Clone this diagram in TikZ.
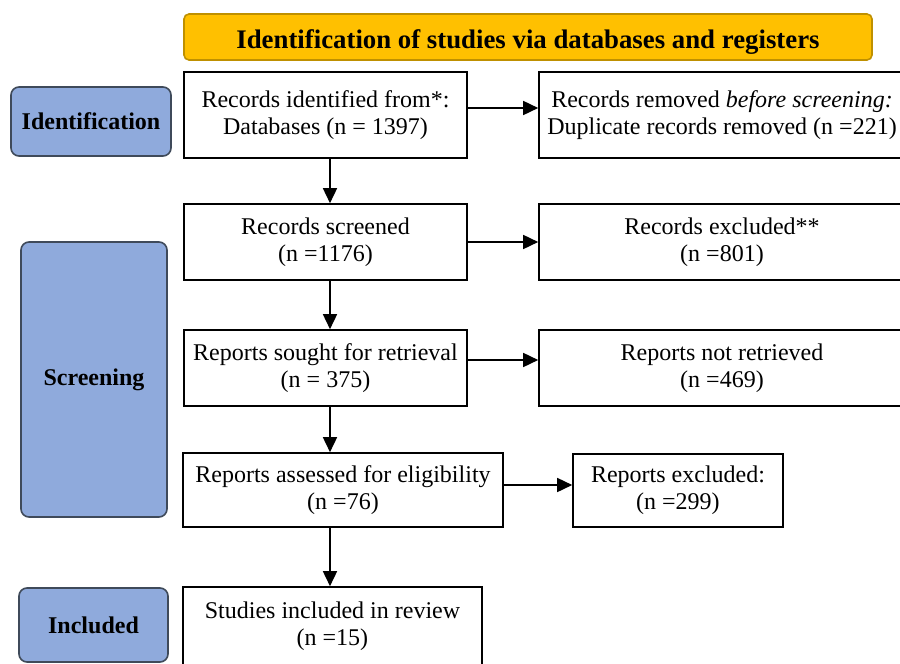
\documentclass[tikz,border=0pt]{standalone}
\usepackage{fontspec}
\setmainfont{Liberation Serif}
\usetikzlibrary{arrows.meta}
\definecolor{hdrfill}{HTML}{FFC000}
\definecolor{hdrline}{HTML}{BF9000}
\definecolor{phasefill}{HTML}{8FAADC}
\definecolor{phaseline}{HTML}{3F4A5A}
\begin{document}
\begin{tikzpicture}[x=0.5pt,y=-0.5pt,
  box/.style={draw=black, line width=0.8pt, fill=white, align=center, inner sep=0pt,
    font=\fontsize{12}{13.5}\selectfont},
  phase/.style={draw=phaseline, line width=0.8pt, fill=phasefill, rounded corners=4pt,
    inner sep=0pt, font=\fontsize{12}{14}\selectfont\bfseries},
  hdr/.style={draw=hdrline, line width=0.8pt, fill=hdrfill, rounded corners=2.5pt,
    inner sep=0pt, font=\fontsize{13.4}{15}\selectfont\bfseries},
  arr/.style={draw=black, line width=0.8pt, -{Triangle[length=7.5pt,width=7pt]}}]
\useasboundingbox (0,0) rectangle (900,664);
\fill[white] (0,0) rectangle (900,664);

\node[hdr, minimum width=344pt, minimum height=23pt] (hdr) at (528,37)
  {\raisebox{-2.5pt}[\height][\depth]{Identification of studies via databases and registers}};

\node[phase, minimum width=80pt, minimum height=34.5pt] (idl) at (91,121.5) {Identification};
\node[phase, minimum width=73pt, minimum height=137.5pt] (scl) at (94,379.5) {Screening};
\node[phase, minimum width=74.5pt, minimum height=37pt] (inl) at (93.5,625) {Included};

\node[box, minimum width=141.5pt, minimum height=43pt] (b1) at (325.5,115)
  {Records identified from*:\\Databases (n = 1397)};
\node[box, minimum width=183pt, minimum height=43pt] (b2) at (722,115)
  {Records removed \textit{before screening:}\\Duplicate records removed (n =221)};
\node[box, minimum width=141.5pt, minimum height=38pt] (b3) at (325.5,242)
  {Records screened\\(n =1176)};
\node[box, minimum width=183pt, minimum height=38pt] (b4) at (722,242)
  {Records excluded**\\(n =801)};
\node[box, minimum width=141.5pt, minimum height=38pt] (b5) at (325.5,368)
  {Reports sought for retrieval\\(n = 375)};
\node[box, minimum width=183pt, minimum height=38pt] (b6) at (722,368)
  {Reports not retrieved\\(n =469)};
\node[box, minimum width=160pt, minimum height=37pt] (b7) at (343,490)
  {Reports assessed for eligibility\\(n =76)};
\node[box, minimum width=105pt, minimum height=36.5pt] (b8) at (678,490.5)
  {Reports excluded:\\(n =299)};
\node[box, minimum width=149.5pt, minimum height=39.5pt] (b9) at (332.5,626.5)
  {Studies included in review\\(n =15)};

% horizontal arrows
\draw[arr] ([yshift=3.5pt]b1.east) -- ([yshift=3.5pt]b1.east -| b2.west);
\draw[arr] (b3.east) -- (b3.east -| b4.west);
\draw[arr] ([yshift=4pt]b5.east) -- ([yshift=4pt]b5.east -| b6.west);
\draw[arr] ([yshift=2.5pt]b7.east) -- ([yshift=2.5pt]b7.east -| b8.west);
% vertical arrows
\draw[arr] ([xshift=2.25pt]b1.south) -- ([xshift=2.25pt]b1.south |- b3.north);
\draw[arr] ([xshift=2.25pt]b3.south) -- ([xshift=2.25pt]b3.south |- b5.north);
\draw[arr] ([xshift=2.25pt]b5.south) -- ([xshift=2.25pt]b5.south |- b7.north);
\draw[arr] ([xshift=-6.5pt]b7.south) -- ([xshift=-6.5pt]b7.south |- b9.north);
\end{tikzpicture}
\end{document}
